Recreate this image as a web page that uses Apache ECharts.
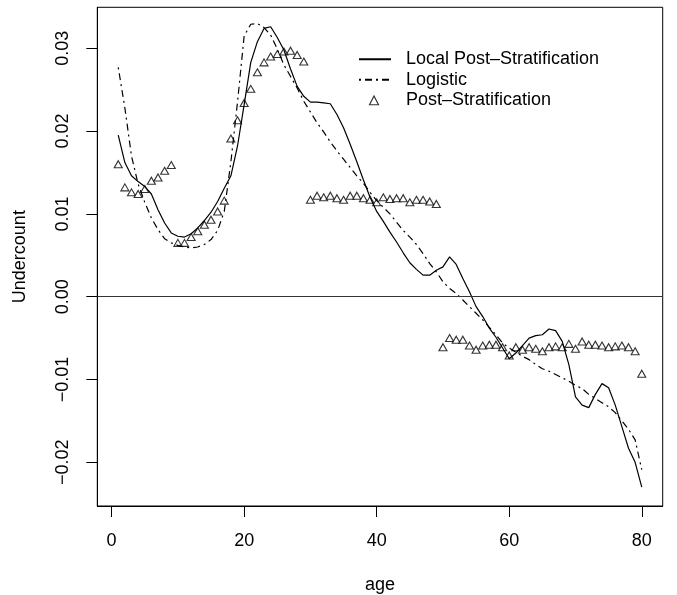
<!DOCTYPE html>
<html><head><meta charset="utf-8">
<script src="https://cdn.jsdelivr.net/npm/echarts@6/dist/echarts.min.js"></script>
<style>html,body{margin:0;padding:0;background:#fff}#c{width:677px;height:595px}</style>
</head><body><div id="c"></div>
<script>
const ages = [1,2,3,4,5,6,7,8,9,10,11,12,13,14,15,16,17,18,19,20,21,22,23,24,25,26,27,28,29,30,31,32,33,34,35,36,37,38,39,40,41,42,43,44,45,46,47,48,49,50,51,52,53,54,55,56,57,58,59,60,61,62,63,64,65,66,67,68,69,70,71,72,73,74,75,76,77,78,79,80];
const localPostStrat = [0.0195,0.0162,0.0146,0.0139,0.0133,0.0124,0.0105,0.0089,0.0077,0.0073,
  0.0072,0.0076,0.0083,0.0092,0.0102,0.0115,0.0131,0.0146,0.0182,0.0232,
  0.0283,0.0308,0.0324,0.0326,0.0313,0.0298,0.0275,0.0254,0.0242,0.0235,
  0.0235,0.0234,0.0233,0.0220,0.0204,0.0184,0.0163,0.0141,0.0120,0.0103,
  0.0091,0.0078,0.0066,0.0053,0.0041,0.0033,0.0026,0.0026,0.0032,0.0036,
  0.0048,0.0039,0.0022,0.0006,-0.0012,-0.0024,-0.0038,-0.0049,-0.0062,-0.0075,
  -0.0068,-0.0059,-0.0050,-0.0047,-0.0046,-0.0039,-0.0041,-0.0054,-0.0082,-0.0121,
  -0.0131,-0.0134,-0.0118,-0.0105,-0.0110,-0.0131,-0.0157,-0.0183,-0.0200,-0.0230];
const logistic = [0.0277,0.0228,0.0170,0.0136,0.0114,0.0095,0.0081,0.0070,0.0065,0.0062,
  0.0060,0.0059,0.0060,0.0063,0.0069,0.0080,0.0103,0.0163,0.0235,0.0315,
  0.0329,0.0330,0.0325,0.0316,0.0299,0.0280,0.0266,0.0252,0.0236,0.0223,
  0.0210,0.0199,0.0187,0.0176,0.0166,0.0156,0.0146,0.0137,0.0126,0.0116,
  0.0108,0.0100,0.0090,0.0080,0.0072,0.0063,0.0052,0.0040,0.0030,0.0018,
  0.0010,0.0004,-0.0004,-0.0012,-0.0020,-0.0028,-0.0037,-0.0046,-0.0056,-0.0062,
  -0.0067,-0.0072,-0.0076,-0.0082,-0.0087,-0.0090,-0.0094,-0.0098,-0.0102,-0.0107,
  -0.0111,-0.0118,-0.0123,-0.0128,-0.0133,-0.0140,-0.0150,-0.0160,-0.0173,-0.0209];
const postStrat = [0.0160,0.0132,0.0126,0.0124,0.0130,0.0140,0.0144,0.0152,0.0159,0.0065,
  0.0065,0.0072,0.0079,0.0087,0.0093,0.0103,0.0116,0.0191,0.0213,0.0234,
  0.0251,0.0271,0.0283,0.0290,0.0293,0.0296,0.0297,0.0292,0.0284,0.0117,
  0.0122,0.0120,0.0122,0.0119,0.0117,0.0122,0.0122,0.0119,0.0117,0.0114,
  0.0120,0.0118,0.0119,0.0119,0.0114,0.0117,0.0117,0.0115,0.0112,-0.0061,
  -0.0050,-0.0052,-0.0052,-0.0059,-0.0064,-0.0059,-0.0058,-0.0058,-0.0061,-0.0071,
  -0.0061,-0.0064,-0.0061,-0.0063,-0.0066,-0.0061,-0.0060,-0.0061,-0.0057,-0.0063,
  -0.0054,-0.0058,-0.0058,-0.0059,-0.0061,-0.0060,-0.0059,-0.0061,-0.0066,-0.0093];
const xTicks = [0,20,40,60,80];
const yTicks = [-0.02,-0.01,0,0.01,0.02,0.03];
const seriesNames = ['Local Post\u2013Stratification','Logistic','Post\u2013Stratification'];

const FONT = 'Liberation Sans, Arial, Helvetica, sans-serif';
const chart = echarts.init(document.getElementById('c'), null, {renderer:'canvas'});
const pair = arr => ages.map((a,i)=>[a, arr[i]]);
const fmtY = v => { const s = Math.abs(v).toFixed(2); return v < -1e-9 ? '\u2212' + s : s; };
// legend icon for triangles: invisible corner points keep the triangle's aspect in a 32x10 box
const triIcon = 'path://M0,0L0,0M32,10L32,10M10.5,9.5L15,0.8L19.5,9.5Z';

chart.setOption({
  animation:false,
  backgroundColor:'#fff',
  grid:{left:97.3, right:14.3, top:7.3, bottom:89, outerBoundsMode:'none', containLabel:false,
    show:true, borderColor:'#000', borderWidth:1, backgroundColor:'transparent'},
  xAxis:{type:'value', min:-2.16, max:83.16,
    name:'age', nameLocation:'middle', nameGap:70,
    nameTextStyle:{fontSize:18, fontFamily:FONT, color:'#000'},
    axisLine:{show:true, onZero:false, lineStyle:{color:'#000', width:1}},
    axisTick:{show:true, length:11, customValues:xTicks, lineStyle:{color:'#000'}},
    axisLabel:{customValues:xTicks, margin:26, fontSize:18, fontFamily:FONT, color:'#000'},
    splitLine:{show:false}},
  yAxis:{type:'value', min:-0.02528, max:0.03495,
    name:'Undercount', nameLocation:'middle', nameGap:68,
    nameTextStyle:{fontSize:18, fontFamily:FONT, color:'#000'},
    axisLine:{show:true, onZero:false, lineStyle:{color:'#000', width:1}},
    axisTick:{show:true, length:11, customValues:yTicks, lineStyle:{color:'#000'}},
    axisLabel:{customValues:yTicks, rotate:90, margin:25, fontSize:18, fontFamily:FONT, color:'#000', formatter:fmtY},
    splitLine:{show:false}},
  legend:{orient:'vertical', left:358, top:49, padding:0, itemWidth:32, itemHeight:10, itemGap:0,
    textStyle:{fontSize:18, fontFamily:FONT, color:'#000', lineHeight:20.5, padding:[0,0,0,10]},
    data:[
      {name:seriesNames[0], itemStyle:{opacity:0, color:'transparent', borderWidth:0}},
      {name:seriesNames[1], itemStyle:{opacity:0, color:'transparent', borderWidth:0}},
      {name:seriesNames[2], icon:triIcon, itemStyle:{color:'#fff', borderColor:'#000', borderWidth:1.2}}]},
  series:[
    {name:seriesNames[0], type:'line', data:pair(localPostStrat), symbol:'none', smooth:false,
     lineStyle:{color:'#000', width:1.2, type:'solid'}, itemStyle:{color:'#000'},
     markLine:{silent:true, symbol:'none', label:{show:false}, lineStyle:{color:'#333', width:1.2, type:'solid'}, data:[{yAxis:0}]}},
    {name:seriesNames[1], type:'line', data:pair(logistic), symbol:'none', smooth:false,
     lineStyle:{color:'#000', width:1.2, type:[2,4,7,4]}, itemStyle:{color:'#000'}},
    {name:seriesNames[2], type:'scatter', data:pair(postStrat), symbol:'triangle', symbolSize:[8,7],
     itemStyle:{color:'#fff', borderColor:'#000', borderWidth:1.1}}
  ]
});
</script></body></html>
